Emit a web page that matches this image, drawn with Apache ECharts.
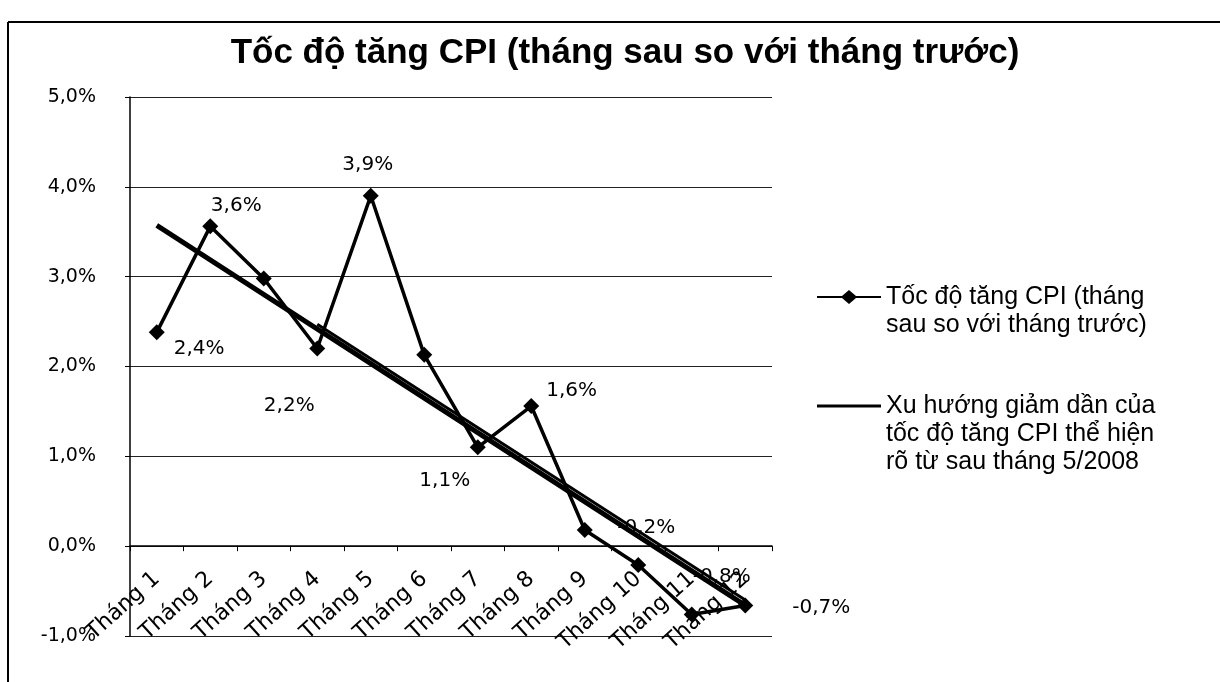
<!DOCTYPE html>
<html>
<head>
<meta charset="utf-8">
<script src="https://cdn.jsdelivr.net/npm/echarts@6/dist/echarts.min.js"></script>
<style>
  html, body { margin: 0; padding: 0; background: #fff; }
  #mainCanvas { width: 1220px; height: 682px; }
</style>
</head>
<body>
<div id="mainCanvas"></div>
<script>
var myChart = echarts.init(document.getElementById("mainCanvas"));

var months = ["Tháng 1", "Tháng 2", "Tháng 3", "Tháng 4", "Tháng 5", "Tháng 6",
              "Tháng 7", "Tháng 8", "Tháng 9", "Tháng 10", "Tháng 11", "Tháng 12"];
// CPI month over month, %
var cpi = [2.38, 3.56, 2.98, 2.2, 3.9, 2.13, 1.1, 1.56, 0.18, -0.21, -0.76, -0.66];
// which points carry a data label
var showLabel = [true, true, false, true, true, false, true, true, false, true, true, true];
// trend lines: only end points are read, the line is drawn straight between them
var trendMain = [3.57, null, null, null, null, null, null, null, null, null, null, -0.66];
var trendSecond = [null, null, null, 2.47, null, null, null, null, null, null, null, -0.6];
var yTicks = [-1, 0, 1, 2, 3, 4, 5];

var nameCpi = "Tốc độ tăng CPI (tháng sau so với tháng trước)";
var nameTrend = "Xu hướng giảm dần của tốc độ tăng CPI thể hiện rõ từ sau tháng 5/2008";

function pct(v) {
    return v.toFixed(1).replace('.', ',') + '%';
}

// label placement for each labelled point (position, offset)
var labelPos = [
    ['right', [4, 16]],
    ['top', [26, 2]],
    null,
    ['bottom', [-28, 34]],
    ['top', [-3, -8]],
    null,
    ['bottom', [-33, 10]],
    ['right', [2, -15]],
    null,
    ['top', [8, -14]],
    ['top', [30, -15]],
    ['right', [34, 2]]
];

var cpiData = [];
for (var i = 0; i < cpi.length; i++) {
    var item = { value: cpi[i] };
    if (showLabel[i] && labelPos[i]) {
        item.label = {
            show: true,
            position: labelPos[i][0],
            offset: labelPos[i][1]
        };
    }
    cpiData.push(item);
}

var font = 'DejaVu Sans';
var legendFont = 'Liberation Sans';

var option = {
    backgroundColor: '#fff',
    animation: false,
    title: {
        text: 'Tốc độ tăng CPI (tháng sau so với tháng trước)',
        left: 620,
        textAlign: 'center',
        top: 31,
        textStyle: {
            fontFamily: 'Liberation Sans',
            fontWeight: 'bold',
            fontSize: 35,
            color: '#000'
        }
    },
    legend: [
        {
            // leading blank line keeps the icon level with the first text line
            data: [{ name: nameCpi, icon: 'path://M0,6 L25,6 L32,0 L39,6 L64,6 L64,8 L39,8 L32,14 L25,8 L0,8 Z' }],
            left: 812,
            top: 250,
            itemWidth: 64,
            itemHeight: 14,
            itemGap: 3,
            formatter: function () { return '\nTốc độ tăng CPI (tháng\nsau so với tháng trước)'; },
            textStyle: { fontFamily: legendFont, fontSize: 25, lineHeight: 28, color: '#000' }
        },
        {
            data: [{ name: nameTrend, icon: 'path://M0,0 L64,0 L64,3 L0,3 Z' }],
            left: 812,
            top: 331,
            itemWidth: 64,
            itemHeight: 14,
            itemGap: 2,
            formatter: function () { return '\n\nXu hướng giảm dần của\ntốc độ tăng CPI thể hiện\nrõ từ sau tháng 5/2008'; },
            textStyle: { fontFamily: legendFont, fontSize: 25, lineHeight: 28, color: '#000' }
        }
    ],
    grid: {
        left: 130,
        right: 448,
        top: 97,
        bottom: 46,
        outerBoundsMode: 'none'
    },
    xAxis: {
        type: 'category',
        data: months,
        axisLine: { onZero: true, lineStyle: { color: '#000', width: 1.5 } },
        axisTick: { show: true, length: 5, lineStyle: { color: '#000' } },
        axisLabel: {
            rotate: 42,
            margin: -60,
            interval: 0,
            fontFamily: font,
            fontSize: 22,
            color: '#000'
        },
        splitLine: { show: false }
    },
    yAxis: {
        type: 'value',
        min: yTicks[0],
        max: yTicks[yTicks.length - 1],
        interval: 1,
        axisLine: { show: true, lineStyle: { color: '#000', width: 1.5 } },
        axisTick: { show: true, length: 5, lineStyle: { color: '#000' } },
        axisLabel: {
            margin: 34,
            formatter: pct,
            fontFamily: font,
            fontSize: 19,
            color: '#000'
        },
        splitLine: { show: true, lineStyle: { color: '#222', width: 1 } }
    },
    series: [
        {
            name: nameCpi,
            type: 'line',
            data: cpiData,
            symbol: 'diamond',
            symbolSize: 16,
            lineStyle: { color: '#000', width: 3.5 },
            itemStyle: { color: '#000' },
            label: {
                show: false,
                formatter: function (p) { return pct(p.value); },
                fontFamily: font,
                fontSize: 20,
                color: '#000'
            },
            z: 3
        },
        {
            name: nameTrend,
            type: 'line',
            data: trendMain,
            connectNulls: true,
            symbol: 'none',
            lineStyle: { color: '#000', width: 5 },
            itemStyle: { color: '#000' },
            z: 2
        },
        {
            name: 'trend2',
            type: 'line',
            data: trendSecond,
            connectNulls: true,
            symbol: 'none',
            lineStyle: { color: '#000', width: 3 },
            itemStyle: { color: '#000' },
            z: 2
        }
    ],
    graphic: [
        { type: 'line', shape: { x1: 8, y1: 22, x2: 1220, y2: 22 }, style: { stroke: '#000', lineWidth: 2 } },
        { type: 'line', shape: { x1: 8, y1: 22, x2: 8, y2: 682 }, style: { stroke: '#000', lineWidth: 2 } }
    ]
};

myChart.setOption(option);
</script>
</body>
</html>
